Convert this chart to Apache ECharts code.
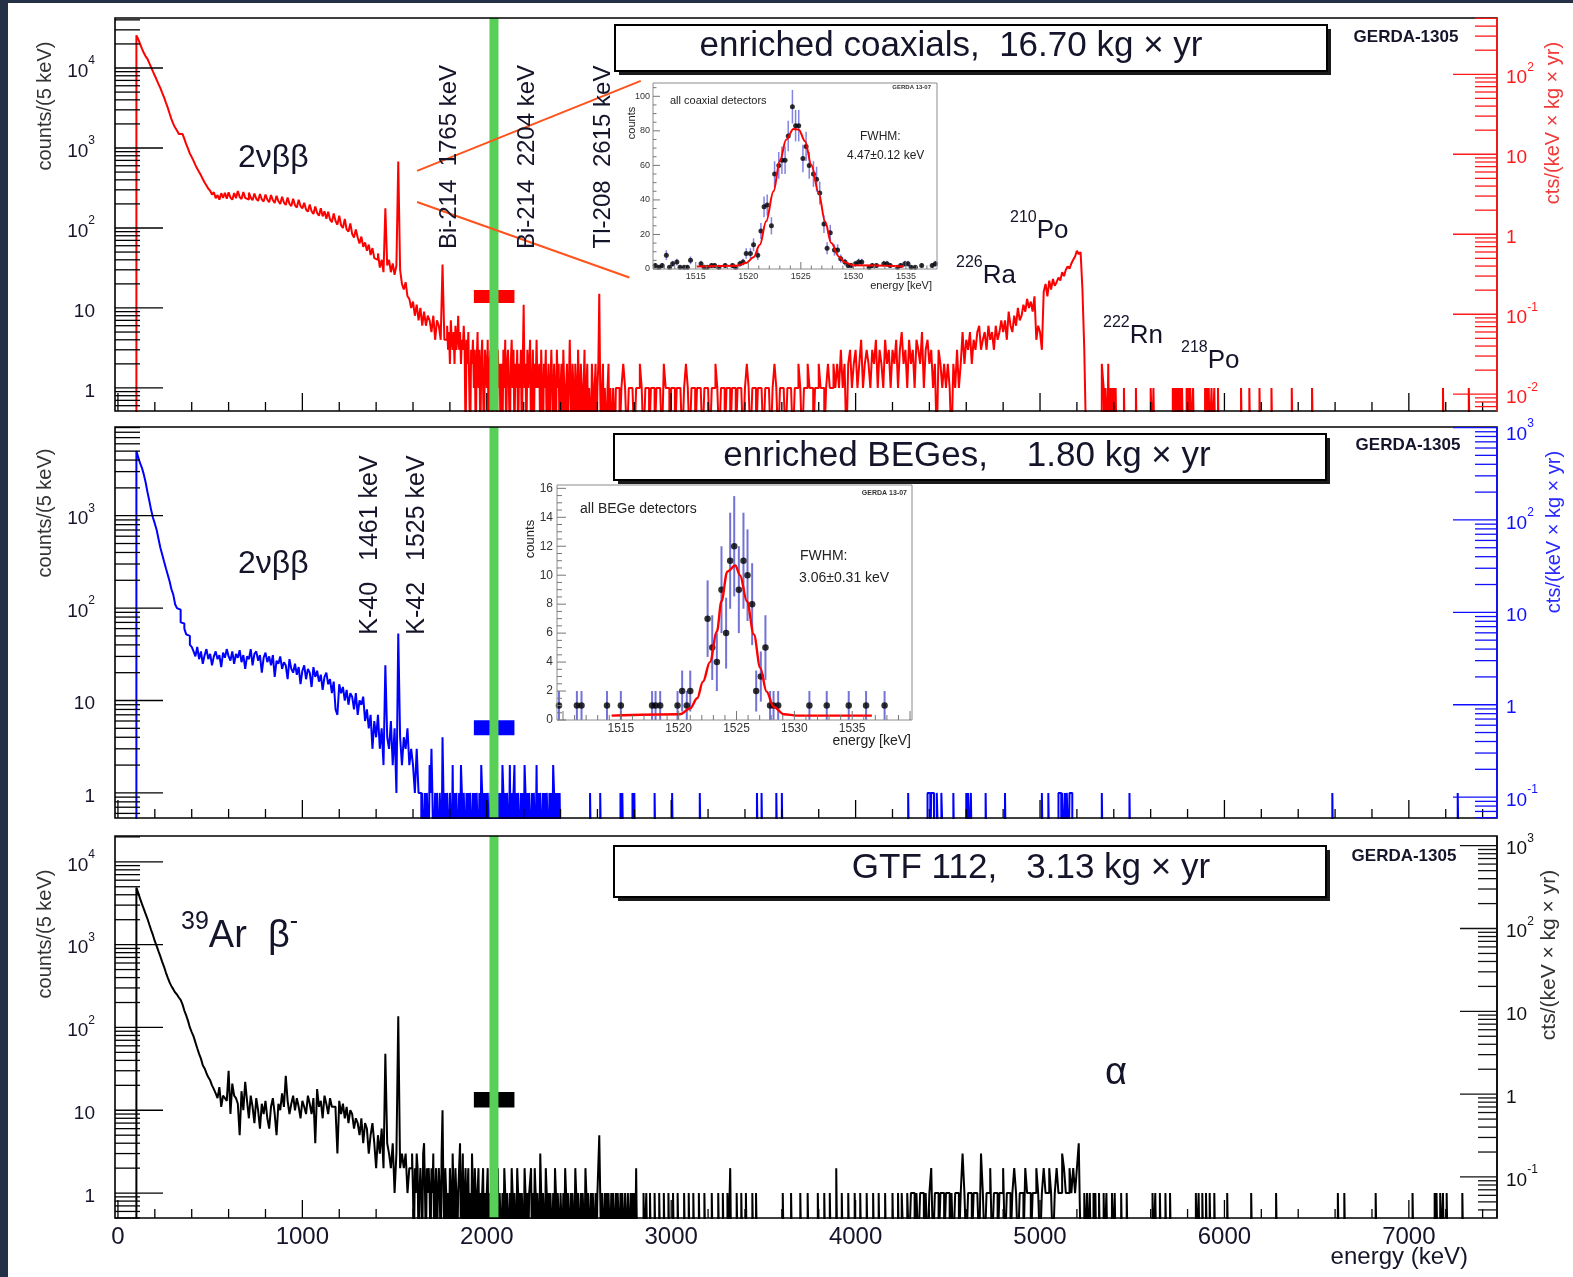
<!DOCTYPE html>
<html>
<head>
<meta charset="utf-8">
<title>GERDA Phase I energy spectra</title>
<script src="https://cdn.jsdelivr.net/npm/echarts@6.0.0/dist/echarts.min.js"></script>
<style>
  html, body { margin: 0; padding: 0; background: #ffffff; }
  #chart { width: 1573px; height: 1277px; }
</style>
</head>
<body>
<div id="chart"></div>
<script>
const FONT = '"Liberation Sans", Arial, Helvetica, sans-serif';
const font = (size, weight) => (weight ? weight + ' ' : '') + size + 'px ' + FONT;

// ---------------- energy axis (keV) ----------------
const E_MIN = -16;
const E_MAX = 7478;
const energyLabels = [0, 1000, 2000, 3000, 4000, 5000, 6000, 7000];
const ENERGY_TICK_STEP = 200;
const Q_BB = 2039;
const blindWindow = [1930, 2150];

const FLOOR = 0.2;     // empty bins drop below the frame
const EVENT_BIN = 5;   // keV width of isolated bins
// all values are counts / 5 keV; each block lists [start keV, step keV, values]

// ---------------- enriched coaxial detectors, 16.70 kg*yr ----------------
const coaxContinuum = [
  25600, 23000, 20000, 17500, 15500, 14000, 13000, 11500, 10200, 9000,
  8000, 7100, 6300, 5600, 4900, 4300, 3700, 3200, 2700, 2300,
  2000, 1800, 1650, 1500, 1500, 1450, 1300, 1120, 980, 850,
  770, 690, 610, 550, 500, 455, 410, 370, 340, 310,
  292, 262, 280, 236, 258, 226, 272, 238, 276, 232,
  280, 240, 226, 274, 236, 290, 244, 230, 282, 238,
  226, 276, 240, 222, 270, 232, 218, 266, 228, 214,
  262, 226, 210, 258, 222, 206, 252, 216, 200, 246,
  208, 194, 240, 200, 188, 232, 192, 180, 226, 188,
  176, 206, 170, 160, 196, 162, 150, 186, 154, 142,
  176, 140, 162, 130, 160, 128, 118, 152, 122, 110,
  142, 108, 100, 130, 96, 90, 114, 84, 76, 96,
  76, 64, 78, 58, 66, 52, 62, 46, 56, 42,
  40, 48, 32, 40, 28, 176, 34, 40, 28, 36,
  26, 34, 676, 30, 20, 17, 21, 14, 13, 10,
  12, 8, 11, 7, 10, 6, 9, 6, 8, 7,
  5, 8, 4, 7, 6, 4, 35, 4
];
const coaxTail = [
  4, 6, 3, 5, 2, 7, 4, 3, 5, 2, 6, 3, 4, 8, 3, 5, 2, 4, 3, 6,
  3, 0, 4, 2, 5, 1, 0, 3, 2, 4, 1, 3, 0, 2, 5, 1, 3, 0, 2, 4,
  1, 0, 3, 2, 1, 4, 0, 2,
  3, 1, 0, 2, 4, 1, 2, 0, 3, 1, 2, 0,
  2, 0, 3, 1, 4, 0, 2, 3, 1, 0, 2, 4, 1, 3, 0, 2, 1, 3, 0, 2,
  1, 3, 0, 2, 11, 1, 2, 0, 3, 1, 2, 4, 0, 1, 3, 0, 2, 1, 4, 1,
  1, 2, 0, 3, 1, 0, 2, 1, 3, 0, 1, 2, 0, 1, 3, 1, 0, 2, 1, 0,
  3, 1, 2, 0, 1, 2, 0, 3, 1, 0, 1, 2, 0, 1, 4, 1, 0, 2, 1, 0,
  2, 1, 0, 3,
  1, 0, 2, 1, 0, 1, 3, 0, 1, 2, 0, 1, 1, 0, 2, 1, 0, 1, 2, 0,
  1, 2, 15, 1, 0, 1, 2, 0, 1, 1, 0, 1, 2, 0, 1, 1, 0, 1, 1, 0
];
const coaxHigh = [
  1, 1, 0, 1, 2, 1, 0, 1, 1, 1,
  0, 1, 1, 2, 1, 0, 1, 1, 0, 1,
  1, 0, 1, 1, 1, 0, 2, 1, 1, 0,
  1, 1, 0, 1, 1, 1, 0, 1, 2, 1,
  0, 1, 1, 0, 1, 1, 1, 0, 1, 1,
  1, 0, 1, 1, 2, 1, 0, 1, 1, 0,
  1, 1, 0, 1, 1, 0, 1, 1, 1, 0,
  1, 2, 1, 0, 1, 1, 0, 1, 1, 1,
  0, 1, 1, 1, 0, 1, 2, 1, 0, 1,
  1, 1, 0, 1, 1, 1, 0, 1, 1, 2,
  1, 0, 1, 1, 2, 1, 1, 0, 1, 1,
  2, 1, 1, 0, 1, 2, 1, 1, 2, 1,
  2, 1, 3, 1, 2, 0, 2, 3, 1, 2,
  3, 1, 2, 4, 1, 2, 3, 2, 1, 3,
  2, 4, 1, 3, 2, 1, 4, 2, 3, 1,
  3, 2, 4, 1, 3, 5, 2, 3, 1, 4,
  2, 3, 1, 4, 3, 2, 5, 1, 3, 4,
  2, 3, 1, 2, 0, 3, 2, 1, 2, 1,
  2, 1, 0, 2, 1, 3, 1, 2, 5, 2,
  4, 3, 5, 2, 4, 3, 5, 6, 3, 4,
  5, 3, 6, 4, 5, 3, 6, 4, 5, 7,
  5, 7, 4, 9, 6, 5, 8, 6, 10, 7,
  8, 11, 9, 13, 10, 12, 9, 14, 4, 6,
  5, 3, 16, 20, 14, 22, 17, 23, 19, 21,
  24, 22, 28, 25, 30, 33, 31, 36, 40, 44,
  52, 47, 50, 17, 3
];
const coaxEvents = [
  [5335, 2], [5340, 2], [5345, 1], [5355, 1], [5360, 1], [5370, 2], [5380, 1], [5390, 1], [5400, 1], [5410, 1],
  [5455, 1], [5520, 1], [5600, 1], [5605, 1], [5615, 1],
  [5720, 1], [5730, 1], [5740, 1], [5750, 1], [5760, 1], [5770, 1],
  [5795, 1], [5805, 1], [5815, 1], [5830, 1],
  [5895, 1], [5905, 1], [5915, 1], [5930, 1], [5945, 1], [5965, 1],
  [6090, 1], [6135, 1], [6190, 1], [6255, 1], [6365, 1], [6475, 1], [7185, 1], [7325, 1]
];

// ---------------- enriched BEGe detectors, 1.80 kg*yr ----------------
const begeContinuum = [
  5000, 4300, 3700, 3300, 2800, 2300, 1800, 1450, 1150, 950,
  820, 700, 560, 450, 380, 320, 270, 230, 195, 160,
  140, 110, 100, 96, 70, 68, 60, 52, 50, 40,
  38, 34, 30, 38, 28, 34, 25, 31, 36, 28,
  32, 24, 30, 34, 28, 31, 23, 33, 29, 36,
  30, 27, 34, 25, 32, 29, 35, 26, 31, 22,
  30, 28, 36, 24, 32, 34, 27, 31, 20, 29,
  33, 26, 30, 24, 31, 18, 27, 25, 30, 22,
  26, 24, 17, 28, 22, 20, 25, 19, 23, 15,
  21, 24, 17, 22, 20, 14, 23, 18, 21, 16,
  19, 13, 18, 20, 15, 17, 12, 16, 8, 7,
  15, 12, 14, 10, 13, 9, 12, 11, 8, 12,
  7, 10, 9, 11, 6, 8, 5, 7, 3, 6,
  4, 7, 3, 5, 2, 24, 4, 3, 6, 2,
  5, 1, 53, 4, 2, 4, 3, 5, 2, 3,
  2, 1, 3, 1
];
const begeTail = [
  1, 0, 1, 1, 0, 1, 0, 1, 1, 0, 2, 1, 3, 1, 0, 0, 1, 0, 1, 1,
  0, 1, 1, 0, 4, 1, 0, 1, 0, 1, 1, 0, 1, 1, 0, 2, 0, 1, 0, 1,
  1, 0, 1, 0, 2, 1, 0, 1, 1, 0, 1, 0, 1, 0, 1, 1, 0, 1, 0, 1,
  0, 1, 1, 0, 1, 0, 2, 1, 0, 1, 0, 1, 0, 1, 1, 0, 1, 0, 1, 2,
  1, 0, 1, 1, 0, 1, 0, 1, 0, 2, 1, 0, 1, 0, 1, 1, 0, 2, 0, 1,
  0, 1, 2, 0, 1, 0, 1, 1, 0, 1, 0, 1, 0, 2, 1, 0, 1, 0, 1, 1,
  0, 1, 0, 1, 1, 0, 2, 0, 1, 0, 1, 1, 0, 1, 0, 1, 0, 1, 1, 0,
  1, 0, 1, 0, 2, 1, 0, 1, 0, 1, 0, 1
];
const begeEvents = [
  [2560, 1], [2615, 1], [2725, 1], [2735, 1], [2790, 1], [2800, 1], [2910, 1], [3005, 1], [3155, 1],
  [3465, 1], [3490, 1], [3570, 1], [3600, 1], [4285, 1],
  [4390, 1], [4395, 1], [4400, 1], [4410, 1], [4415, 1], [4420, 1], [4440, 1], [4445, 1], [4465, 1], [4470, 1],
  [4530, 1], [4600, 1], [4610, 1], [4625, 1], [4705, 1], [4810, 1], [5010, 1], [5045, 1],
  [5100, 1], [5105, 1], [5110, 1], [5120, 1], [5125, 1], [5135, 1], [5145, 1], [5150, 1], [5160, 1], [5165, 1], [5170, 1],
  [5335, 1], [5485, 1], [6585, 1], [7265, 1]
];

// ---------------- GTF 112, 3.13 kg*yr ----------------
const gtfContinuum = [
  4890, 4200, 3600, 3100, 2700, 2350, 2050, 1750, 1500, 1300,
  1100, 960, 830, 720, 620, 540, 460, 400, 350, 315,
  290, 265, 250, 230, 215, 190, 160, 140, 120, 100,
  88, 78, 66, 56, 48, 42, 35, 32, 28, 25,
  23, 20, 18, 16, 14, 19, 11, 15, 14, 13,
  30, 9, 21, 15, 14, 12, 5, 17, 10, 22,
  13, 8, 15, 11, 7, 14, 10, 6, 12, 9,
  13, 8, 6, 11, 14, 9, 5, 12, 10, 16,
  11, 26, 13, 9, 12, 15, 10, 14, 11, 8,
  13, 11, 9, 15, 12, 9, 14, 4, 18, 11,
  13, 8, 15, 12, 9, 14, 11, 11, 10, 3,
  13, 9, 12, 8, 11, 7, 10, 9, 6, 8,
  7, 5, 8, 4, 7, 6, 3, 5, 7, 4,
  2, 5, 3, 6, 2, 48, 4, 3, 2, 4,
  1, 3, 136, 2, 3, 2, 3, 1, 2
];
const gtfTail = [
  2, 3, 1, 0, 2, 1, 3, 2, 0, 1, 2, 1, 0, 3, 4, 1, 0, 2, 1, 2,
  1, 0, 2, 1, 3, 0, 1, 2, 0, 1, 2, 1, 0, 3, 10, 1, 0, 2, 1, 0,
  1, 0, 2, 1, 0, 3, 1, 0, 2, 1, 0, 1, 2, 4, 0, 1, 3, 0, 1, 2,
  0, 1, 2, 0, 1, 0, 3, 1, 0, 2, 1, 0, 1, 2, 0, 1, 0, 1, 2, 0,
  1, 0, 1, 2, 0, 1, 1, 0, 2, 1, 0, 1, 0, 1, 2, 0, 1, 1, 0, 1,
  0, 2, 1, 0, 1, 1, 0, 1, 0, 2, 1, 0, 1, 1, 0, 2, 1, 0, 1, 0,
  1, 1, 0, 2, 1, 0, 1, 0, 1, 1, 2, 0, 1, 0, 2, 1, 0, 1, 1, 0,
  3, 1, 0, 1, 1, 0, 2, 1, 0, 1, 0, 1, 1, 0, 1, 0, 2, 1, 0, 1,
  1, 0, 1, 1, 0, 1, 0, 2, 1, 0, 1, 1, 0, 1, 0, 1, 1, 0, 2, 1,
  0, 1, 1, 0, 1, 0, 1, 1, 0, 2, 1, 0, 1, 1, 0, 1, 0, 1, 1, 0,
  1, 0, 1, 1, 5, 1, 0, 1, 1, 0, 1, 0, 1, 0, 1, 1, 0, 1, 0, 1,
  1, 0, 1, 0, 1, 1, 0, 1, 0, 1, 1, 0, 1, 0, 0, 1, 1, 0, 1, 0,
  1, 0, 1, 0, 2, 0
];
const gtfAlpha = [
  1, 0, 0, 1, 0, 1, 1, 0, 1, 0,
  1, 1, 0, 1, 0, 1, 2, 0, 1, 1,
  0, 1, 1, 0, 1, 1, 0, 1, 0, 1,
  1, 0, 1, 3, 1, 0, 1, 1, 0, 1,
  1, 1, 0, 3, 1, 0, 1, 1, 2, 0,
  1, 1, 0, 1, 1, 2, 0, 1, 1, 0,
  1, 2, 1, 0, 1, 1, 0, 2, 1, 1,
  0, 1, 1, 2, 1, 0, 1, 2, 1, 1,
  2, 1, 0, 1, 2, 1, 1, 3, 2, 1,
  1, 2, 1, 2, 1, 2, 4
];
const gtfEvents = [
  [2850, 1], [2865, 1], [2885, 1], [2910, 1], [2935, 1], [2960, 1], [2985, 1], [3010, 1], [3035, 1], [3070, 1],
  [3095, 1], [3120, 1], [3150, 1], [3180, 1], [3220, 1], [3255, 1], [3280, 1], [3305, 1], [3320, 2], [3355, 1],
  [3380, 1], [3405, 1], [3440, 1], [3460, 1], [3605, 1], [3650, 1], [3700, 1], [3740, 1], [3795, 1], [3830, 1],
  [3860, 1], [3895, 2], [3925, 1], [3960, 1], [3995, 1], [4025, 1], [4060, 1], [4095, 1], [4125, 1], [4160, 1],
  [4200, 1], [4230, 1],
  [5240, 1], [5255, 1], [5270, 1], [5290, 1], [5300, 1], [5320, 1], [5345, 1], [5360, 1], [5390, 1], [5405, 1],
  [5440, 1], [5470, 1], [5610, 1], [5625, 1], [5650, 1], [5680, 1], [5705, 1], [5845, 1], [5860, 1], [5880, 1],
  [5900, 1], [5920, 1], [5945, 1], [6015, 1], [6145, 1], [6280, 1], [6615, 1], [6650, 1], [6820, 1], [7020, 1],
  [7140, 1], [7150, 1], [7170, 1], [7185, 1], [7205, 1], [7290, 1]
];

// exposures (kg*yr) for the cts/(keV x kg x yr) scale
const exposures = [16.70, 1.80, 3.13];
// blind-window marker, lower/upper level in counts/(5 keV)
const blindLevels = [[11.5, 16.8], [4.2, 6.1], [10.8, 16.6]];
// decades labelled on the count axis (left) and rate axis (right)
const countDecades = [[0, 1, 2, 3, 4], [0, 1, 2, 3], [0, 1, 2, 3, 4]];
const rateDecades = [[-2, -1, 0, 1, 2], [-1, 0, 1, 2, 3], [-1, 0, 1, 2, 3]];

// ---------------- 42K 1525 keV line, zoomed ----------------
const coaxPeakEnergy = [
  1511.15, 1511.5, 1511.8, 1512.2, 1512.5, 1512.8, 1513.2, 1513.5, 1513.9, 1514.2,
  1514.5, 1515.5, 1515.8, 1516.1, 1516.5, 1516.8, 1517.2, 1517.8, 1518.5, 1518.8,
  1519.2, 1519.5, 1519.8, 1520.2, 1520.5, 1520.9, 1521.2, 1521.5, 1521.8, 1522.2,
  1522.5, 1522.9, 1523.2, 1523.5, 1523.8, 1524.2, 1524.5, 1524.8, 1525.2, 1525.5,
  1525.8, 1526.2, 1526.5, 1526.8, 1527.2, 1527.5, 1527.8, 1528.2, 1528.5, 1528.8,
  1529.2, 1529.5, 1529.8, 1530.2, 1530.5, 1530.8, 1531.5, 1531.8, 1532.2, 1532.9,
  1533.2, 1533.5, 1534.2, 1534.5, 1534.9, 1535.2, 1535.5, 1535.9, 1536.5, 1537.5,
  1537.8
];
const coaxPeakCounts = [
  2, 1, 2, 8, 1, 3, 4, 1, 1, 1,
  5, 3, 1, 1, 2, 2, 1, 2, 2, 1,
  3, 4, 9, 9, 14, 8, 22, 36, 37, 25,
  55, 60, 63, 63, 77, 94, 83, 83, 64, 71,
  60, 55, 52, 44, 26, 12, 21, 11, 11, 6,
  4, 2, 2, 3, 4, 4, 1, 2, 2, 3,
  3, 2, 1, 2, 3, 3, 1, 1, 2, 2,
  3
];
const coaxFitEnergy = [1515.1, 1518.9, 1519.8, 1520.5, 1521.1, 1521.7, 1522.4, 1523.0, 1523.6, 1524.3,
  1524.8, 1525.4, 1526.0, 1526.7, 1527.3, 1527.9, 1528.6, 1529.2, 1530.0, 1534.8];
const coaxFitCounts = [1.5, 1.9, 3.5, 6.8, 14, 27.6, 45, 62.4, 74.9, 81.1,
  80.7, 74, 60.4, 44, 27.6, 15, 7.3, 3.9, 2.1, 1.5];

const begePeakEnergy = [
  1509.65, 1511.2, 1511.6, 1513.8, 1515.0, 1517.7, 1518.0, 1518.4, 1519.9, 1520.3,
  1520.7, 1521.0, 1522.5, 1522.9, 1523.3, 1523.7, 1524.1, 1524.45, 1524.8, 1525.2,
  1525.6, 1525.95, 1526.35, 1526.7, 1527.1, 1527.5, 1527.9, 1528.2, 1528.6, 1531.3,
  1532.8, 1534.7, 1536.2, 1537.8
];
const begePeakCounts = [
  1, 1, 1, 1, 1, 1, 1, 1, 1, 2,
  1, 2, 7, 5, 4, 9, 6, 11, 12, 9,
  11, 10, 8, 2, 3, 5, 1, 1, 1, 1,
  1, 1, 1, 1
];
const begeFitEnergy = [1514.2, 1520.1, 1521.0, 1521.6, 1522.1, 1522.7, 1523.3, 1523.7, 1524.2, 1524.9,
  1525.3, 1525.9, 1526.5, 1527.05, 1527.6, 1528.2, 1529.1, 1530.2, 1536.7];
const begeFitCounts = [0.3, 0.4, 0.8, 1.5, 2.65, 4.0, 6.1, 8.2, 10.25, 10.67,
  10.0, 8.2, 5.9, 3.6, 1.96, 0.92, 0.4, 0.3, 0.3];

const insetEnergyLabels = [1515, 1520, 1525, 1530, 1535];
const coaxInsetCountLabels = [0, 20, 40, 60, 80, 100];
const begeInsetCountLabels = [0, 2, 4, 6, 8, 10, 12, 14, 16];

// ---------------- layout / styling ----------------
const panels = [
  { grid: { left: 115, top: 18, width: 1382, height: 393 }, yMin: 0.515, yMax: 42200,
    color: '#ff0000', axisColor: '#ff1a1a', rMajor: 44, rMinor: 22 },
  { grid: { left: 115, top: 427, width: 1382, height: 391 }, yMin: 0.535, yMax: 9120,
    color: '#0000ff', axisColor: '#1010ff', rMajor: 44, rMinor: 22 },
  { grid: { left: 115, top: 836, width: 1382, height: 382 }, yMin: 0.5, yMax: 20500,
    color: '#000000', axisColor: '#111111', rMajor: 37, rMinor: 19 }
];
const insets = [
  { grid: { left: 653, top: 83, width: 284, height: 186 }, xMin: 1510.93, xMax: 1537.96, yMax: 107.7,
    yStep: 20, yMinor: 5, countLabels: coaxInsetCountLabels, labelSize: 9, tickMajor: 7, tickMinor: 3.5,
    xLabelGap: 8, yLabelGap: 3 },
  { grid: { left: 557, top: 485, width: 355, height: 235 }, xMin: 1509.48, xMax: 1540.17, yMax: 16.23,
    yStep: 2, yMinor: 0.5, countLabels: begeInsetCountLabels, labelSize: 12, tickMajor: 9, tickMinor: 5,
    xLabelGap: 9, yLabelGap: 4 }
];
const GREEN = '#58d058';
const ORANGE = '#ff521c';

// ---------------- helpers ----------------
function histogramSteps(blocks, events) {
  const bins = [];
  blocks.forEach(([start, step, values]) => values.forEach((n, i) => bins.push([start + i * step, step, n])));
  events.forEach(([e, n]) => bins.push([e, EVENT_BIN, n]));
  bins.sort((a, b) => a[0] - b[0]);
  const pts = [];
  let end = null;
  bins.forEach(([e, w, n]) => {
    if (end === null || e > end + 1e-6) {
      if (end !== null) pts.push([end, FLOOR]);
      pts.push([e, FLOOR]);
    }
    pts.push([e, n > 0 ? n : FLOOR]);
    end = e + w;
  });
  pts.push([end, FLOOR]);
  return pts;
}

function decadeText(k) {
  if (k === 0) return '{b|1}';
  if (k === 1) return '{b|10}';
  return '{b|10}{s|' + k + '}';
}
function decadeRich(size, color) {
  const s = Math.round(size * 0.63);
  return {
    b: { font: font(size), fill: color, lineHeight: size + 7, verticalAlign: 'bottom' },
    s: { font: font(s), fill: color, lineHeight: s + 4, verticalAlign: 'top' }
  };
}

function seg(x1, y1, x2, y2, stroke, w) {
  return { type: 'line', shape: { x1, y1, x2, y2 }, style: { stroke, lineWidth: w || 1.2 } };
}

function mainAxesSeries(idx) {
  const p = panels[idx];
  const factor = 5 * exposures[idx];
  return {
    type: 'custom', xAxisIndex: idx, yAxisIndex: idx, z: 20, silent: true,
    data: [[1000, 1]],
    renderItem(params, api) {
      const cs = params.coordSys;
      const L = cs.x, T = cs.y, R = cs.x + cs.width, B = cs.y + cs.height;
      const kids = [];
      const yOf = v => api.coord([1000, v])[1];
      kids.push({ type: 'rect', shape: { x: L, y: T, width: R - L, height: B - T },
        style: { fill: 'none', stroke: '#000', lineWidth: 1.6 } });
      for (let e = 0; e <= E_MAX; e += ENERGY_TICK_STEP) {
        const px = api.coord([e, 1])[0];
        kids.push(seg(px, B, px, B - (e % 1000 === 0 ? 18 : 9), '#000', 1.3));
      }
      const lo = Math.floor(Math.log10(p.yMin)), hi = Math.ceil(Math.log10(p.yMax));
      for (let k = lo; k <= hi; k++) {
        for (let m = 1; m <= 9; m++) {
          const v = m * Math.pow(10, k);
          if (v < p.yMin || v > p.yMax) continue;
          const py = yOf(v);
          kids.push(seg(L, py, L + (m === 1 ? 48 : 25), py, '#000', 1.3));
        }
      }
      kids.push(seg(R, T, R, B, p.axisColor, 1.8));
      const rlo = Math.floor(Math.log10(p.yMin / factor)), rhi = Math.ceil(Math.log10(p.yMax / factor));
      for (let k = rlo; k <= rhi; k++) {
        for (let m = 1; m <= 9; m++) {
          const v = m * Math.pow(10, k) * factor;
          if (v < p.yMin || v > p.yMax) continue;
          const py = yOf(v);
          kids.push(seg(R - (m === 1 ? p.rMajor : p.rMinor), py, R, py, p.axisColor, 1.3));
        }
      }
      countDecades[idx].forEach(k => {
        kids.push({ type: 'text', x: L - 20, y: yOf(Math.pow(10, k)),
          style: { text: decadeText(k), rich: decadeRich(19, '#14142a'), align: 'right', verticalAlign: 'middle' } });
      });
      rateDecades[idx].forEach(k => {
        const py = Math.max(yOf(Math.pow(10, k) * factor), T + 4);
        kids.push({ type: 'text', x: R + 9, y: py,
          style: { text: decadeText(k), rich: decadeRich(19, p.axisColor), align: 'left', verticalAlign: 'middle' } });
      });
      if (idx === 2) {
        energyLabels.forEach(e => {
          const px = api.coord([e, 1])[0];
          kids.push({ type: 'text', x: px, y: B + 19,
            style: { text: String(e), font: font(24), fill: '#14142a', align: 'center', verticalAlign: 'middle' } });
        });
      }
      return { type: 'group', children: kids };
    }
  };
}

function overlaySeries(idx) {
  const [lo, hi] = blindLevels[idx];
  return {
    type: 'custom', xAxisIndex: idx, yAxisIndex: idx, z: 4, silent: true,
    data: [[Q_BB, 1]],
    renderItem(params, api) {
      const cs = params.coordSys;
      const a = api.coord([blindWindow[0], hi]);
      const b = api.coord([blindWindow[1], lo]);
      const gx = api.coord([Q_BB, 1])[0];
      return { type: 'group', children: [
        { type: 'rect', shape: { x: a[0], y: a[1], width: b[0] - a[0], height: b[1] - a[1] },
          style: { fill: panels[idx].color } },
        { type: 'rect', shape: { x: gx - 4.5, y: cs.y, width: 9, height: cs.height },
          style: { fill: GREEN } }
      ] };
    }
  };
}

// zoom guide lines from the 1525 keV region towards the coaxial inset
const guideLines = [[[1622, 517], [2835, 6900]], [[1622, 211], [2773, 24]]];
function guideSeries() {
  return {
    type: 'custom', xAxisIndex: 0, yAxisIndex: 0, z: 6, silent: true,
    data: [[2000, 1]],
    renderItem(params, api) {
      return { type: 'group', children: guideLines.map(([p, q]) => {
        const a = api.coord(p), b = api.coord(q);
        return seg(a[0], a[1], b[0], b[1], ORANGE, 2);
      }) };
    }
  };
}

function insetAxesSeries(n) {
  const c = insets[n];
  const gi = 3 + n;
  return {
    type: 'custom', xAxisIndex: gi, yAxisIndex: gi, z: 20, silent: true,
    data: [[1525, 0]],
    renderItem(params, api) {
      const cs = params.coordSys;
      const L = cs.x, T = cs.y, R = cs.x + cs.width, B = cs.y + cs.height;
      const kids = [{ type: 'rect', shape: { x: L, y: T, width: R - L, height: B - T },
        style: { fill: 'none', stroke: '#8c8c8c', lineWidth: 1 } }];
      for (let e = Math.ceil(c.xMin); e <= c.xMax; e += 1) {
        const px = api.coord([e, 0])[0];
        kids.push(seg(px, B, px, B - (e % 5 === 0 ? c.tickMajor : c.tickMinor), '#777', 1));
      }
      for (let v = 0; v <= c.yMax + 1e-9; v += c.yMinor) {
        const py = api.coord([c.xMin, v])[1];
        const major = Math.abs(v / c.yStep - Math.round(v / c.yStep)) < 1e-6;
        kids.push(seg(L, py, L + (major ? c.tickMajor : c.tickMinor), py, '#777', 1));
      }
      insetEnergyLabels.forEach(e => {
        const px = api.coord([e, 0])[0];
        kids.push({ type: 'text', x: px, y: B + c.xLabelGap,
          style: { text: String(e), font: font(c.labelSize), fill: '#333', align: 'center', verticalAlign: 'middle' } });
      });
      c.countLabels.forEach(v => {
        const py = api.coord([c.xMin, v])[1];
        kids.push({ type: 'text', x: L - c.yLabelGap, y: py,
          style: { text: String(v), font: font(c.labelSize), fill: '#333', align: 'right', verticalAlign: 'middle' } });
      });
      return { type: 'group', children: kids };
    }
  };
}

function errorBarSeries(n, energies, counts, color, width) {
  const gi = 3 + n;
  return {
    type: 'custom', xAxisIndex: gi, yAxisIndex: gi, z: 8, silent: true,
    data: energies.map((e, i) => [e, counts[i]]),
    renderItem(params, api) {
      const e = api.value(0), v = api.value(1), s = Math.sqrt(v);
      const top = api.coord([e, v + s]);
      const bot = api.coord([e, Math.max(0, v - s)]);
      return seg(top[0], top[1], bot[0], bot[1], color, width);
    }
  };
}

// ---------------- series ----------------
const spectra = [
  histogramSteps([[100, 10, coaxContinuum], [1780, 5, coaxTail], [2700, 10, coaxHigh]], coaxEvents),
  histogramSteps([[100, 10, begeContinuum], [1640, 5, begeTail]], begeEvents),
  histogramSteps([[100, 10, gtfContinuum], [1590, 5, gtfTail], [4250, 10, gtfAlpha]], gtfEvents)
];

const series = [];
spectra.forEach((pts, i) => {
  series.push({
    type: 'line', xAxisIndex: i, yAxisIndex: i, data: pts, step: 'end',
    showSymbol: false, symbol: 'none', silent: true, clip: true, z: 2,
    lineStyle: { color: panels[i].color, width: 2 }
  });
  series.push(overlaySeries(i));
  series.push(mainAxesSeries(i));
});
series.push(guideSeries());

[[coaxPeakEnergy, coaxPeakCounts, coaxFitEnergy, coaxFitCounts, 5, 1.5, 2],
 [begePeakEnergy, begePeakCounts, begeFitEnergy, begeFitCounts, 6.5, 2, 2.4]].forEach((d, n) => {
  const gi = 3 + n;
  series.push(errorBarSeries(n, d[0], d[1], n === 0 ? 'rgba(90,90,215,0.75)' : 'rgba(80,80,205,0.8)', d[5]));
  series.push({
    type: 'scatter', xAxisIndex: gi, yAxisIndex: gi, z: 9, silent: true,
    data: d[0].map((e, i) => [e, d[1][i]]), symbol: 'circle', symbolSize: d[4],
    itemStyle: { color: '#000' }
  });
  series.push({
    type: 'line', xAxisIndex: gi, yAxisIndex: gi, z: 10, silent: true,
    data: d[2].map((e, i) => [e, d[3][i]]), smooth: 0.35, smoothMonotone: 'x',
    showSymbol: false, symbol: 'none', lineStyle: { color: '#ff0000', width: d[6] }
  });
  series.push(insetAxesSeries(n));
});

// ---------------- static text and frames ----------------
function txt(x, y, text, size, o) {
  o = o || {};
  const el = { type: 'text', x, y, z: 40, silent: true,
    style: { text, font: font(size, o.weight), fill: o.color || '#14142a',
      align: o.align || 'left', verticalAlign: 'middle' } };
  if (o.rich) el.style.rich = o.rich;
  if (o.rotate) el.rotation = Math.PI / 2;
  return el;
}
function titleBox(x, y, w, h) {
  return [
    { type: 'rect', z: 38, silent: true, shape: { x: x + 4, y: y + 4, width: w, height: h }, style: { fill: '#1b1b1b' } },
    { type: 'rect', z: 39, silent: true, shape: { x, y, width: w, height: h }, style: { fill: '#ffffff', stroke: '#000', lineWidth: 2 } }
  ];
}
const isoRich = {
  b: { font: font(26), fill: '#14142a', lineHeight: 34, verticalAlign: 'bottom' },
  s: { font: font(16), fill: '#14142a', lineHeight: 16, verticalAlign: 'top' }
};
const arRich = {
  b: { font: font(38), fill: '#14142a', lineHeight: 46, verticalAlign: 'bottom' },
  s: { font: font(25), fill: '#14142a', lineHeight: 8, verticalAlign: 'top' }
};

const graphics = [
  { type: 'rect', z: 50, silent: true, shape: { x: 0, y: 0, width: 8, height: 1277 }, style: { fill: '#243146' } },
  { type: 'rect', z: 50, silent: true, shape: { x: 0, y: 0, width: 1573, height: 3 }, style: { fill: '#243146' } },
  ...titleBox(615, 25, 712, 46),
  ...titleBox(614, 434, 712, 46),
  ...titleBox(614, 846, 712, 51),
  txt(951, 46, 'enriched coaxials,  16.70 kg \u00d7 yr', 35, { align: 'center' }),
  txt(967, 456, 'enriched BEGes,    1.80 kg \u00d7 yr', 35, { align: 'center' }),
  txt(1031, 868, 'GTF 112,   3.13 kg \u00d7 yr', 35, { align: 'center' }),
  txt(1406, 37, 'GERDA-1305', 17, { align: 'center', weight: 'bold' }),
  txt(1408, 445, 'GERDA-1305', 17, { align: 'center', weight: 'bold' }),
  txt(1404, 856, 'GERDA-1305', 17, { align: 'center', weight: 'bold' }),
  txt(45, 106, 'counts/(5 keV)', 20, { align: 'center', rotate: true, color: '#333' }),
  txt(45, 513, 'counts/(5 keV)', 20, { align: 'center', rotate: true, color: '#333' }),
  txt(45, 934, 'counts/(5 keV)', 20, { align: 'center', rotate: true, color: '#333' }),
  txt(1553, 123, 'cts/(keV \u00d7 kg \u00d7 yr)', 20, { align: 'center', rotate: true, color: '#f03a3a' }),
  txt(1554, 532, 'cts/(keV \u00d7 kg \u00d7 yr)', 20, { align: 'center', rotate: true, color: '#2a2aff' }),
  txt(1549, 955, 'cts/(keV \u00d7 kg \u00d7 yr)', 21, { align: 'center', rotate: true, color: '#333' }),
  txt(1468, 1257, 'energy (keV)', 24, { align: 'right' }),
  txt(238, 158, '2\u03bd\u03b2\u03b2', 32),
  txt(238, 564, '2\u03bd\u03b2\u03b2', 32),
  txt(449, 157, 'Bi-214  1765 keV', 24, { align: 'center', rotate: true }),
  txt(527, 157, 'Bi-214  2204 keV', 24, { align: 'center', rotate: true }),
  txt(603, 157, 'Tl-208  2615 keV', 24, { align: 'center', rotate: true }),
  txt(370, 545, 'K-40   1461 keV', 25, { align: 'center', rotate: true }),
  txt(417, 545, 'K-42   1525 keV', 25, { align: 'center', rotate: true }),
  txt(1010, 227, '{s|210}{b|Po}', 26, { rich: isoRich }),
  txt(956, 272, '{s|226}{b|Ra}', 26, { rich: isoRich }),
  txt(1103, 332, '{s|222}{b|Rn}', 26, { rich: isoRich }),
  txt(1181, 357, '{s|218}{b|Po}', 26, { rich: isoRich }),
  txt(181, 933, '{s|39}{b|Ar  \u03b2}{s|-}', 38, { rich: arRich }),
  txt(1116, 1074, '\u03b1', 38, { align: 'center' }),
  // coaxial inset
  txt(670, 101, 'all coaxial detectors', 11, { color: '#222' }),
  txt(860, 137, 'FWHM:', 12, { color: '#222' }),
  txt(847, 156, '4.47\u00b10.12 keV', 12, { color: '#222' }),
  txt(632, 123, 'counts', 11, { align: 'center', rotate: true, color: '#222' }),
  txt(932, 286, 'energy [keV]', 11, { align: 'right', color: '#222' }),
  txt(931, 87, 'GERDA 13-07', 6, { align: 'right', weight: 'bold', color: '#333' }),
  // BEGe inset
  txt(580, 509, 'all BEGe detectors', 14, { color: '#222' }),
  txt(800, 556, 'FWHM:', 14, { color: '#222' }),
  txt(799, 578, '3.06\u00b10.31 keV', 14, { color: '#222' }),
  txt(530, 539, 'counts', 13, { align: 'center', rotate: true, color: '#222' }),
  txt(911, 741, 'energy [keV]', 14, { align: 'right', color: '#222' }),
  txt(907, 493, 'GERDA 13-07', 7, { align: 'right', weight: 'bold', color: '#333' })
];

// ---------------- axes ----------------
const grid = panels.map(p => p.grid).concat(insets.map(c => c.grid));
const xAxis = panels.map((p, i) => ({ type: 'value', gridIndex: i, min: E_MIN, max: E_MAX, show: false }))
  .concat(insets.map((c, n) => ({ type: 'value', gridIndex: 3 + n, min: c.xMin, max: c.xMax, show: false })));
const yAxis = panels.map((p, i) => ({ type: 'log', logBase: 10, gridIndex: i, min: p.yMin, max: p.yMax, show: false }))
  .concat(insets.map((c, n) => ({ type: 'value', gridIndex: 3 + n, min: 0, max: c.yMax, show: false })));

const chart = echarts.init(document.getElementById('chart'), null, { renderer: 'canvas', width: 1573, height: 1277 });
chart.setOption({
  animation: false,
  backgroundColor: '#ffffff',
  grid, xAxis, yAxis, series,
  graphic: { elements: graphics }
});
</script>
</body>
</html>
